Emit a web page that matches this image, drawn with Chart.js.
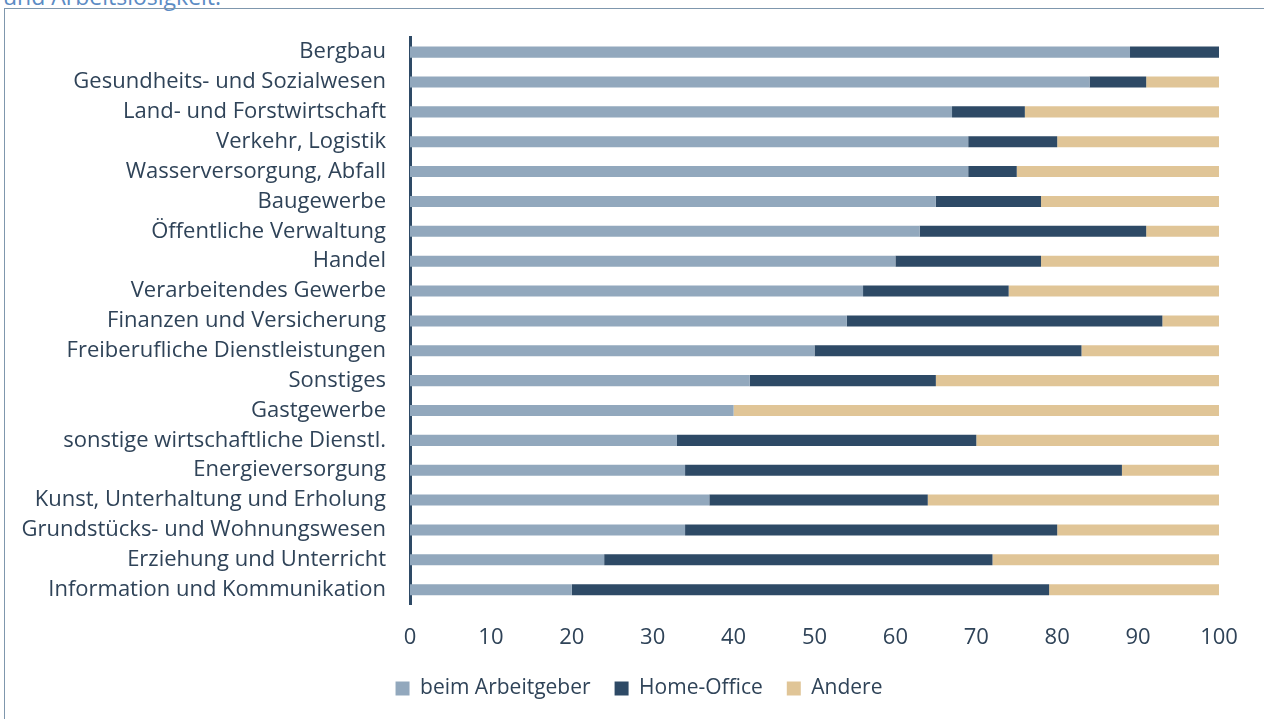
<!DOCTYPE html>
<html>
<head>
<meta charset="utf-8">
<script src="https://cdn.jsdelivr.net/npm/chart.js@4.4.1/dist/chart.umd.min.js"></script>
<style>
  html, body { margin: 0; padding: 0; background: #fff; overflow: hidden; }
  #wrap { position: relative; width: 1264px; height: 719px; }
  #frame { position: absolute; left: 4px; top: 8px; width: 1300px; height: 800px;
           border-left: 1.5px solid #7f97ad; border-top: 1.5px solid #7f97ad; pointer-events: none; }
  #cap { position: absolute; left: 3px; top: -20px; font-family: 'Open Sans', sans-serif; font-size: 23px; color: #5b8bc4; white-space: nowrap; }
  canvas { position: absolute; left: 0; top: 0; }
</style>
</head>
<body>
<div id="wrap">
  <div id="cap">und Arbeitslosigkeit.</div>
  <canvas id="c" width="1264" height="719"></canvas>
  <div id="frame"></div>
</div>
<script>
const categories = [
  "Bergbau",
  "Gesundheits- und Sozialwesen",
  "Land- und Forstwirtschaft",
  "Verkehr, Logistik",
  "Wasserversorgung, Abfall",
  "Baugewerbe",
  "Öffentliche Verwaltung",
  "Handel",
  "Verarbeitendes Gewerbe",
  "Finanzen und Versicherung",
  "Freiberufliche Dienstleistungen",
  "Sonstiges",
  "Gastgewerbe",
  "sonstige wirtschaftliche Dienstl.",
  "Energieversorgung",
  "Kunst, Unterhaltung und Erholung",
  "Grundstücks- und Wohnungswesen",
  "Erziehung und Unterricht",
  "Information und Kommunikation"
];
const beimArbeitgeber = [89, 84, 67, 69, 69, 65, 63, 60, 56, 54, 50, 42, 40, 33, 34, 37, 34, 24, 20];
const homeOffice      = [11,  7,  9, 11,  6, 13, 28, 18, 18, 39, 33, 23,  0, 37, 54, 27, 46, 48, 59];
const andere          = [ 0,  9, 24, 20, 25, 22,  9, 22, 26,  7, 17, 35, 60, 30, 12, 36, 20, 28, 21];
const seriesNames = ["beim Arbeitgeber", "Home-Office", "Andere"];
const xTicks = [0, 10, 20, 30, 40, 50, 60, 70, 80, 90, 100];

const textColor = "#2f4358";
const fontFamily = "'Open Sans', Lato, sans-serif";
const legendPad = 24;

const legendShift = {
  id: "legendShift",
  afterLayout(chart) { if (chart.legend) chart.legend.left += 59; }
};

new Chart(document.getElementById("c"), {
  type: "bar",
  data: {
    labels: categories,
    datasets: [
      { label: seriesNames[0], data: beimArbeitgeber, backgroundColor: "#92a8bd" },
      { label: seriesNames[1], data: homeOffice, backgroundColor: "#2e4a66" },
      { label: seriesNames[2], data: andere, backgroundColor: "#e0c597" }
    ]
  },
  plugins: [legendShift],
  options: {
    indexAxis: "y",
    responsive: false,
    animation: false,
    maintainAspectRatio: false,
    layout: { padding: { top: 37, right: 45, left: 0, bottom: 10 } },
    datasets: { bar: { categoryPercentage: 1, barPercentage: 0.37, borderWidth: 0 } },
    scales: {
      x: {
        stacked: true,
        min: 0, max: 100,
        afterBuildTicks: (s) => { s.ticks = xTicks.map(v => ({ value: v })); },
        afterFit: (s) => { s.height -= 9; },
        grid: { display: false },
        border: { display: false },
        ticks: { color: textColor, font: { family: fontFamily, size: 22 }, padding: 12 }
      },
      y: {
        stacked: true,
        afterFit: (s) => { s.width = 410; },
        grid: { display: false, drawTicks: false },
        border: { display: true, color: "#2e4a66", width: 3 },
        ticks: { color: textColor, font: { family: fontFamily, size: 22 }, padding: 24, autoSkip: false }
      }
    },
    plugins: {
      legend: {
        position: "bottom",
        labels: {
          color: textColor,
          font: { family: fontFamily, size: 21 },
          boxWidth: 14, boxHeight: 14,
          padding: legendPad
        }
      },
      tooltip: { enabled: false }
    }
  }
});
</script>
</body>
</html>
